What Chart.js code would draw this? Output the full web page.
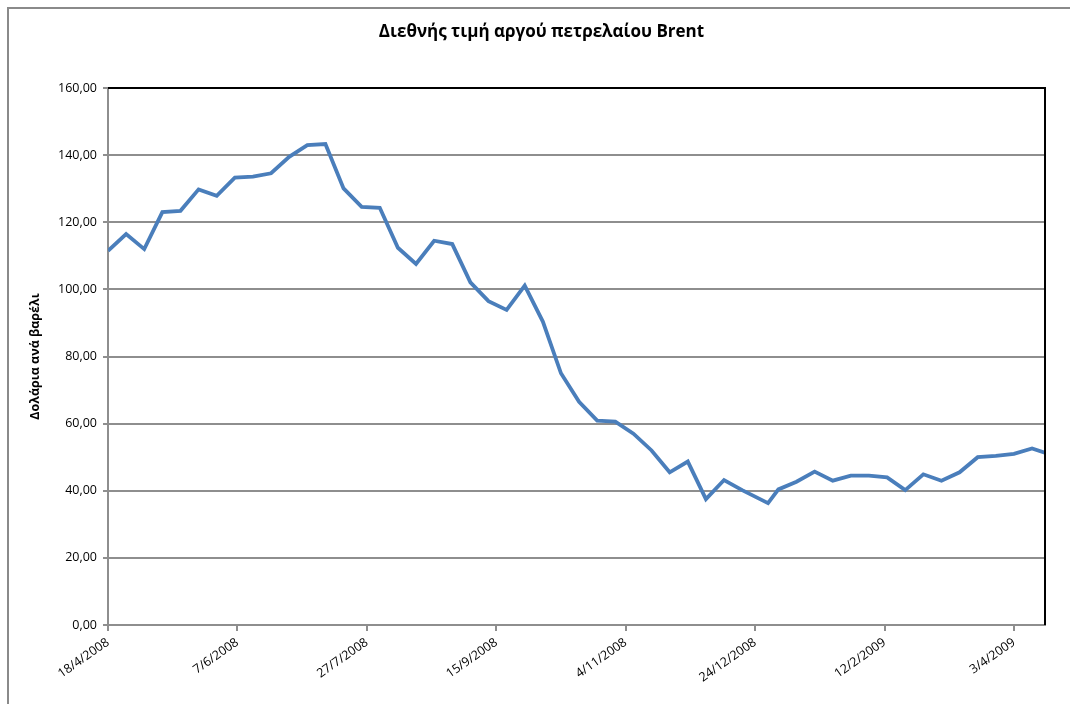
<!DOCTYPE html>
<html>
<head>
<meta charset="utf-8">
<title>Brent</title>
<script src="https://cdn.jsdelivr.net/npm/chart.js@4.4.1/dist/chart.umd.min.js"></script>
<style>
  html, body { margin: 0; padding: 0; background: #fff; }
  #wrap { width: 1070px; height: 704px; position: relative; }
</style>
</head>
<body>
<div id="wrap"><canvas id="brent" width="1070" height="704"></canvas></div>
<script>
// weekly Brent quotes, USD per barrel
const dates = [
    "18/4/2008", "25/4/2008", "2/5/2008", "9/5/2008", "16/5/2008", "23/5/2008",
    "30/5/2008", "6/6/2008", "13/6/2008", "20/6/2008", "27/6/2008", "4/7/2008",
    "11/7/2008", "18/7/2008", "25/7/2008", "1/8/2008", "8/8/2008", "15/8/2008",
    "22/8/2008", "29/8/2008", "5/9/2008", "12/9/2008", "19/9/2008", "26/9/2008",
    "3/10/2008", "10/10/2008", "17/10/2008", "24/10/2008", "31/10/2008", "7/11/2008",
    "14/11/2008", "21/11/2008", "28/11/2008", "5/12/2008", "12/12/2008", "19/12/2008",
    "29/12/2008", "2/1/2009", "9/1/2009", "16/1/2009", "23/1/2009", "30/1/2009",
    "6/2/2009", "13/2/2009", "20/2/2009", "27/2/2009", "6/3/2009", "13/3/2009",
    "20/3/2009", "27/3/2009", "3/4/2009", "10/4/2009", "17/4/2009"
];

const prices = [
    111.5, 116.5, 112.0, 123.0, 123.4, 129.8,
    127.9, 133.3, 133.6, 134.6, 139.5, 143.0,
    143.3, 130.1, 124.6, 124.3, 112.4, 107.6,
    114.5, 113.5, 102.1, 96.5, 93.9, 101.1,
    90.4, 75.0, 66.5, 60.9, 60.6, 57.0,
    52.0, 45.5, 48.7, 37.5, 43.2, 40.2,
    36.3, 40.4, 42.7, 45.7, 43.0, 44.5,
    44.5, 44.0, 40.2, 44.9, 43.0, 45.5,
    50.0, 50.4, 51.0, 52.6, 50.8
];

const tickDates = ["18/4/2008", "7/6/2008", "27/7/2008", "15/9/2008",
                   "4/11/2008", "24/12/2008", "12/2/2009", "3/4/2009"];
const axisEnd = "15/4/2009";

const chartTitle = "Διεθνής τιμή αργού πετρελαίου Brent";
const yTitle = "Δολάρια ανά βαρέλι";

function toDay(s) {
    let p = s.split("/").map(Number);
    return Date.UTC(p[2], p[1] - 1, p[0]) / 86400000;
}
const day0 = toDay(dates[0]);
const dayOf = s => toDay(s) - day0;

let points = [];
for (let i = 0; i < dates.length; i++) {
    points.push({ x: dayOf(dates[i]), y: prices[i] });
}
const tickDays = tickDates.map(dayOf);

const gridGrey = '#8e8e8e';

// white page, outer frame, black top/right edge of the plot area
const frame = {
    id: 'frame',
    beforeDraw(chart) {
        let ctx = chart.ctx;
        ctx.save();
        ctx.fillStyle = '#fff';
        ctx.fillRect(0, 0, chart.width, chart.height);
        ctx.strokeStyle = '#8a8a8a';
        ctx.lineWidth = 2;
        ctx.beginPath();
        ctx.moveTo(8, chart.height);
        ctx.lineTo(8, 8);
        ctx.lineTo(chart.width, 8);
        ctx.stroke();
        ctx.restore();
    },
    afterDraw(chart) {
        let a = chart.chartArea;
        let ctx = chart.ctx;
        ctx.save();
        ctx.strokeStyle = '#000';
        ctx.lineWidth = 2;
        ctx.beginPath();
        ctx.moveTo(a.left, a.top);
        ctx.lineTo(a.right, a.top);
        ctx.lineTo(a.right, a.bottom);
        ctx.stroke();
        ctx.restore();
    }
};

Chart.defaults.font.family = "'Open Sans', sans-serif";
Chart.defaults.color = '#000';

let ctx = document.getElementById("brent").getContext("2d");

let chart = new Chart(ctx, {
    type: 'line',
    data: {
        datasets: [{
            label: "Brent",
            data: points,
            borderColor: '#4a7ebb',
            borderWidth: 3.8,
            pointRadius: 0,
            tension: 0,
            fill: false
        }]
    },
    options: {
        responsive: false,
        animation: false,
        layout: { padding: { left: 38, right: 25, top: 0, bottom: 0 } },
        plugins: {
            legend: { display: false },
            tooltip: { enabled: false },
            title: {
                display: true,
                text: chartTitle,
                color: '#000',
                font: { size: 17, weight: 'bold' },
                padding: { top: 22, bottom: 45.6 }
            }
        },
        scales: {
            x: {
                type: 'linear',
                min: 0,
                max: dayOf(axisEnd),
                afterBuildTicks: scale => {
                    scale.ticks = tickDays.map(v => ({ value: v }));
                },
                afterFit: scale => { scale.height = 79; },
                ticks: {
                    autoSkip: false,
                    minRotation: 35,
                    maxRotation: 35,
                    padding: 4,
                    font: { size: 12.5 },
                    callback: v => tickDates[tickDays.indexOf(v)]
                },
                grid: {
                    drawOnChartArea: false,
                    drawTicks: true,
                    tickLength: 6,
                    color: gridGrey,
                    lineWidth: 2
                },
                border: { color: gridGrey, width: 2 }
            },
            y: {
                min: 0,
                max: 160,
                afterFit: scale => { scale.width = 70; },
                title: {
                    display: true,
                    text: yTitle,
                    font: { size: 12.5, weight: 'bold' },
                    padding: { top: -10.5, bottom: 0 }
                },
                ticks: {
                    stepSize: 20,
                    padding: 6,
                    font: { size: 12.5 },
                    callback: v => v.toFixed(2).replace('.', ',')
                },
                grid: {
                    color: gridGrey,
                    lineWidth: 2,
                    tickLength: 5
                },
                border: { color: gridGrey, width: 2 }
            }
        }
    },
    plugins: [frame]
});
</script>
</body>
</html>
